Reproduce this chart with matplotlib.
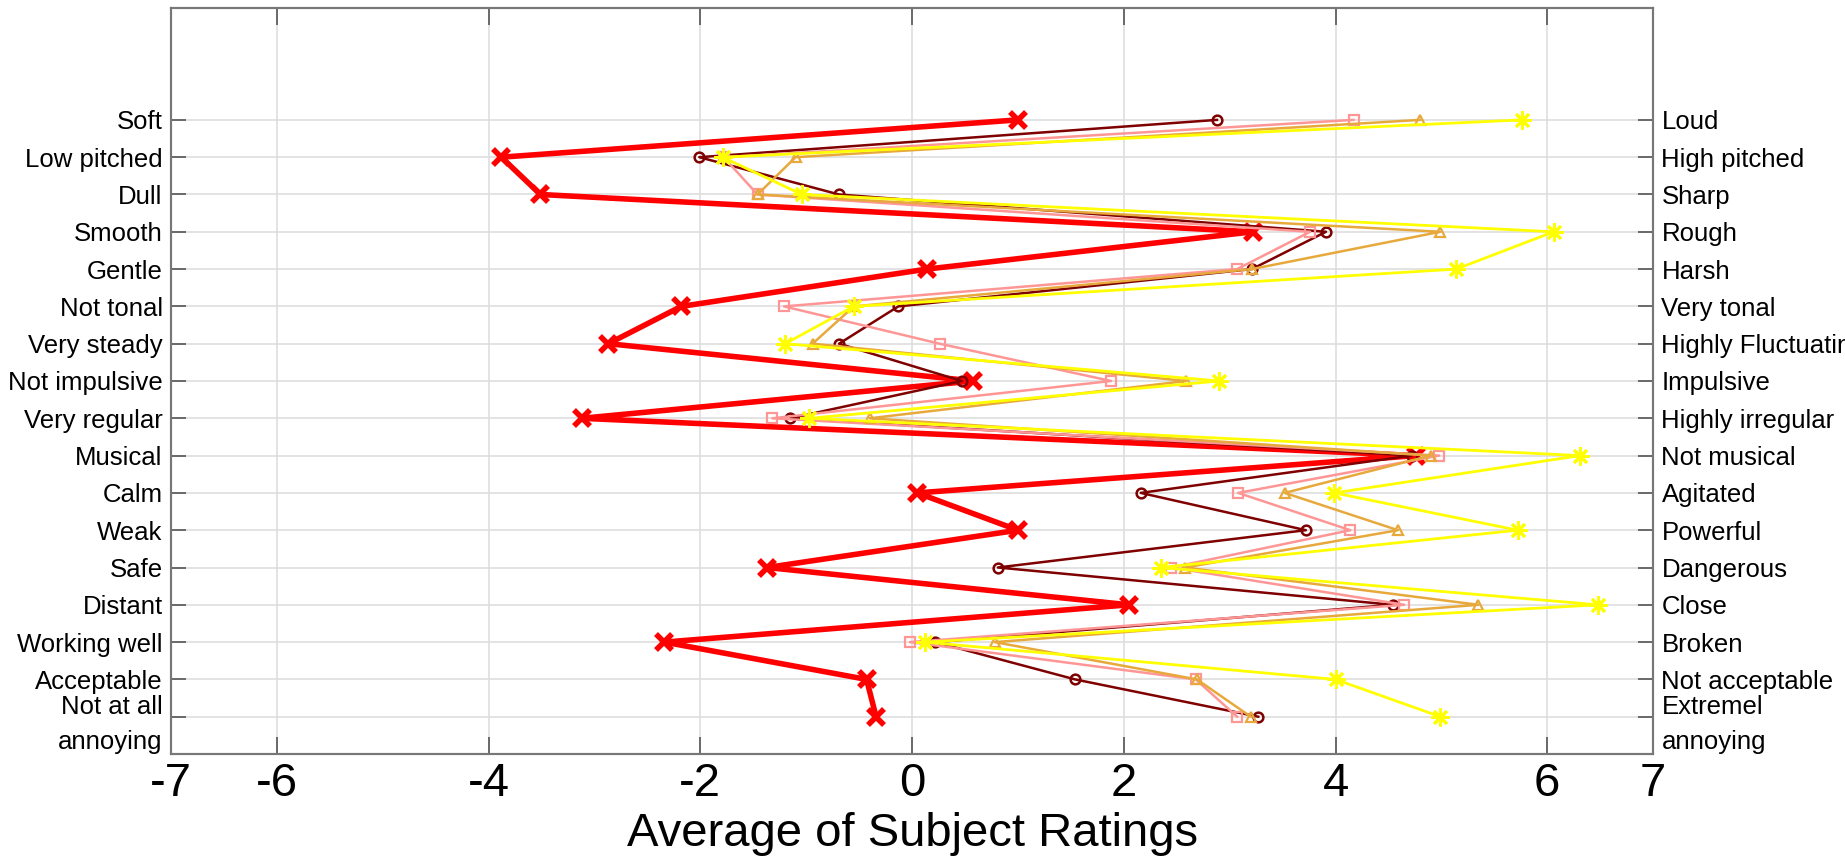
import numpy as np
import matplotlib
matplotlib.use('Agg')
import matplotlib.pyplot as plt

plt.rcParams['font.family'] = ['Liberation Sans', 'DejaVu Sans']

# semantic differential word pairs (top to bottom)
left_labels = ['Soft', 'Low pitched', 'Dull', 'Smooth', 'Gentle', 'Not tonal', 'Very steady',
               'Not impulsive', 'Very regular', 'Musical', 'Calm', 'Weak', 'Safe', 'Distant',
               'Working well', 'Acceptable', 'Not at all\nannoying']
right_labels = ['Loud', 'High pitched', 'Sharp', 'Rough', 'Harsh', 'Very tonal', 'Highly Fluctuating',
                'Impulsive', 'Highly irregular', 'Not musical', 'Agitated', 'Powerful', 'Dangerous',
                'Close', 'Broken', 'Not acceptable', 'Extremel\nannoying']

# average ratings per sound
red = [1.00, -3.88, -3.51, 3.22, 0.14, -2.18, -2.87, 0.58, -3.12, 4.76, 0.05, 1.00, -1.37, 2.05, -2.34, -0.43, -0.34]
darkred = [2.88, -2.01, -0.69, 3.91, 3.21, -0.13, -0.69, 0.47, -1.15, 4.72, 2.16, 3.72, 0.81, 4.54, 0.22, 1.54, 3.27]
pink = [4.17, -1.78, -1.46, 3.76, 3.07, -1.21, 0.26, 1.88, -1.32, 4.98, 3.08, 4.14, 2.45, 4.65, -0.02, 2.68, 3.07]
orange = [4.80, -1.10, -1.46, 4.99, 3.21, -0.55, -0.94, 2.59, -0.40, 4.90, 3.52, 4.59, 2.58, 5.35, 0.78, 2.69, 3.20]
yellow = [5.76, -1.79, -1.04, 6.06, 5.14, -0.55, -1.20, 2.90, -0.97, 6.31, 3.99, 5.72, 2.35, 6.48, 0.12, 4.00, 4.99]

xticks = [-7, -6, -4, -2, 0, 2, 4, 6, 7]
xticklabels = ['-7', '-6', '-4', '-2', '0', '2', '4', '6', '7']

ypos = np.arange(len(left_labels))[::-1] + 1

fig = plt.figure(figsize=(18.45, 8.58), dpi=100)
ax = fig.add_axes([0.0927, 0.1212, 0.8033, 0.8695])

ax.plot(red, ypos, color='#ff0000', lw=4, marker='x', ms=12, mew=4)
ax.plot(darkred, ypos, color='#7f0000', lw=1.8, marker='o', ms=7, mfc='none', mew=1.8)
ax.plot(pink, ypos, color='#ff9696', lw=1.8, marker='s', ms=7, mfc='none', mew=1.6)
ax.plot(orange, ypos, color='#e8a93c', lw=1.8, marker='^', ms=7, mfc='none', mew=1.6)
ax.plot(yellow, ypos, color='#ffff00', lw=2, marker=(8, 2, 0), ms=13, mew=2)

ax.set_xlim(-7, 7)
ax.set_ylim(0, 20)
ax.set_xticks(xticks)
ax.set_xticklabels(xticklabels)
ax.set_yticks(ypos)
ax.set_yticklabels(left_labels, linespacing=1.57)
ax.set_axisbelow(True)
ax.grid(True, color='#dedede', lw=1.2)

ax.tick_params(axis='x', direction='in', length=12, width=1.2, color='#555555',
               labelsize=34, pad=6, top=True)
ax.tick_params(axis='y', direction='in', length=11, width=1.2, color='#555555',
               labelsize=18.5, pad=6)
for s in ax.spines.values():
    s.set_color('#777777')
    s.set_linewidth(1.5)

ax2 = ax.twinx()
ax2.set_ylim(0, 20)
ax2.set_yticks(ypos)
ax2.set_yticklabels(right_labels, linespacing=1.57)
ax2.tick_params(axis='y', direction='in', length=11, width=1.2, color='#555555',
                labelsize=18.5, pad=6)
for s in ax2.spines.values():
    s.set_color('#777777')
    s.set_linewidth(1.5)

ax.set_xlabel('Average of Subject Ratings', fontsize=34, labelpad=4)

fig.savefig('out.png', dpi=100)
